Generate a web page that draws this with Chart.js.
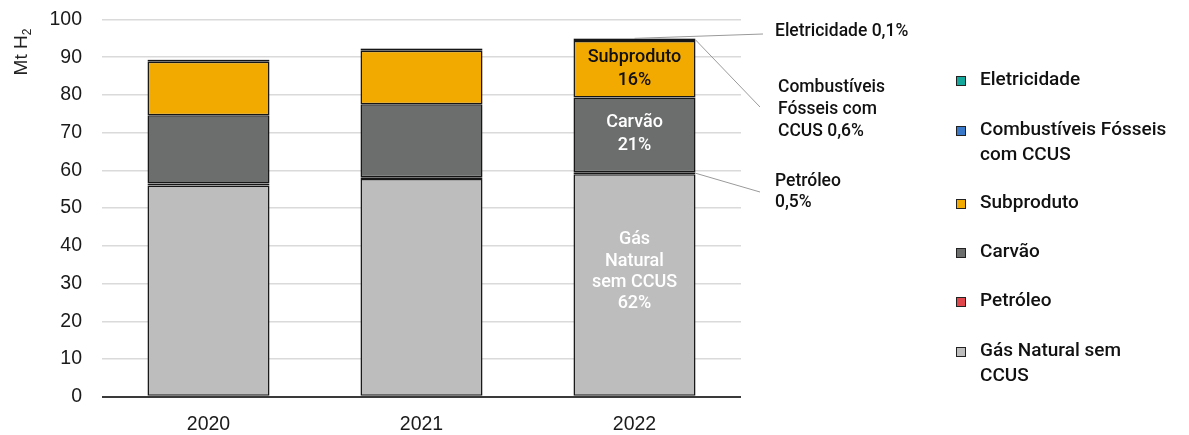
<!DOCTYPE html>
<html lang="pt">
<head>
<meta charset="utf-8">
<title>Produção de hidrogénio por fonte</title>
<script src="https://cdn.jsdelivr.net/npm/chart.js@4.4.1/dist/chart.umd.min.js"></script>
<style>
  html, body { margin: 0; padding: 0; background: #fff; }
  #wrap { width: 1189px; height: 435px; }
</style>
</head>
<body>
<div id="wrap"><canvas id="h2-chart" width="1189" height="435"></canvas></div>
<script>
// Produção de H2 por fonte (Mt H2)
const anos = ['2020', '2021', '2022'];
const gasNatural = [56.0, 57.7, 59.0];
const petroleo = [0.5, 0.5, 0.5];
const carvao = [18.1, 19.3, 19.8];
const subproduto = [14.2, 14.2, 15.0];
const fosseisCCUS = [0.5, 0.6, 0.6];
const eletricidade = [0.1, 0.1, 0.1];

// Legenda (de cima para baixo) com as quebras de linha
const legendaLinhas = [
    ['Eletricidade'],
    ['Combustíveis Fósseis', 'com CCUS'],
    ['Subproduto'],
    ['Carvão'],
    ['Petróleo'],
    ['Gás Natural sem', 'CCUS']
];

const FONT_TXT = "'Roboto', sans-serif";
const FONT_AXIS = "'Liberation Sans', Arial, sans-serif";

const series = [
    { label: 'Gás Natural sem CCUS', data: gasNatural, color: '#bdbdbd' },
    { label: 'Petróleo', data: petroleo, color: '#e0474c' },
    { label: 'Carvão', data: carvao, color: '#6b6e6d' },
    { label: 'Subproduto', data: subproduto, color: '#f2a900' },
    { label: 'Combustíveis Fósseis com CCUS', data: fosseisCCUS, color: '#3a78c9' },
    { label: 'Eletricidade', data: eletricidade, color: '#14a89c' }
];

function totalAno(i) {
    return series.reduce((s, d) => s + d.data[i], 0);
}

// percentagem no formato pt (vírgula decimal)
function pct(value, i) {
    const p = value / totalAno(i) * 100;
    const txt = p < 1 ? p.toFixed(1) : p.toFixed(0);
    return txt.replace('.', ',') + '%';
}

const extras = {
    id: 'extras',
    afterDatasetsDraw(chart) {
        const ctx = chart.ctx;
        const k = anos.length - 1;
        const seg = i => chart.getDatasetMeta(i).data[k].getProps(['x', 'y', 'base', 'width'], true);

        ctx.save();
        ctx.textAlign = 'center';
        ctx.textBaseline = 'middle';
        ctx.font = `500 18px ${FONT_TXT}`;

        // rótulos dentro das barras de 2022
        const internos = [
            { ds: 3, lines: ['Subproduto', pct(subproduto[k], k)], color: '#111', dy: 0, lh: 23 },
            { ds: 2, lines: ['Carvão', pct(carvao[k], k)], color: '#fff', dy: -1, lh: 23 },
            { ds: 0, lines: ['Gás', 'Natural', 'sem CCUS', pct(gasNatural[k], k)], color: '#fff', dy: -13, lh: 21.3 }
        ];
        internos.forEach(lb => {
            const s = seg(lb.ds);
            const mid = (s.y + s.base) / 2 + lb.dy;
            ctx.fillStyle = lb.color;
            lb.lines.forEach((t, j) => {
                ctx.fillText(t, s.x, mid + (j - (lb.lines.length - 1) / 2) * lb.lh);
            });
        });

        // linhas de chamada para as fatias finas
        const right = s => s.x + s.width / 2;
        const el = seg(5), cc = seg(4), pe = seg(1);
        ctx.strokeStyle = '#9a9a9a';
        ctx.lineWidth = 1;
        ctx.beginPath();
        ctx.moveTo(el.x, el.y);
        ctx.lineTo(763, 34);
        ctx.moveTo(right(cc), (cc.y + cc.base) / 2);
        ctx.lineTo(760, 107);
        ctx.moveTo(right(pe), (pe.y + pe.base) / 2);
        ctx.lineTo(760, 192);
        ctx.stroke();

        ctx.textAlign = 'left';
        ctx.fillStyle = '#111';
        ctx.font = `500 17.5px ${FONT_TXT}`;
        ctx.fillText('Eletricidade ' + pct(eletricidade[k], k), 775, 32);
        ['Combustíveis', 'Fósseis com', 'CCUS ' + pct(fosseisCCUS[k], k)].forEach((t, j) => {
            ctx.fillText(t, 778, 88 + j * 22);
        });
        ['Petróleo', pct(petroleo[k], k)].forEach((t, j) => {
            ctx.fillText(t, 775, 182 + j * 21);
        });

        // legenda à direita
        const rowsY = [80, 130, 203, 252, 301, 351];
        ctx.font = `500 19px ${FONT_TXT}`;
        legendaLinhas.forEach((lines, r) => {
            const s = series[series.length - 1 - r];
            const y = rowsY[r];
            ctx.fillStyle = s.color;
            ctx.fillRect(956, y - 4, 10, 10);
            ctx.strokeStyle = '#222';
            ctx.lineWidth = 1;
            ctx.strokeRect(956.5, y - 3.5, 9, 9);
            ctx.fillStyle = '#111';
            lines.forEach((t, j) => ctx.fillText(t, 980, y + j * 25));
        });

        // título do eixo y: Mt H₂
        ctx.translate(22, 52);
        ctx.rotate(-Math.PI / 2);
        ctx.font = `19px ${FONT_AXIS}`;
        ctx.fillStyle = '#222';
        const w1 = ctx.measureText('Mt H').width;
        ctx.font = `12px ${FONT_AXIS}`;
        const w2 = ctx.measureText('2').width;
        const x0 = -(w1 + w2) / 2;
        ctx.font = `19px ${FONT_AXIS}`;
        ctx.fillText('Mt H', x0, 0);
        ctx.font = `12px ${FONT_AXIS}`;
        ctx.fillText('2', x0 + w1, 6);
        ctx.restore();
    }
};

new Chart(document.getElementById('h2-chart'), {
    type: 'bar',
    data: {
        labels: anos,
        datasets: series.map(s => ({
            label: s.label,
            data: s.data,
            backgroundColor: s.color,
            borderColor: '#161616',
            borderWidth: 1.5,
            borderSkipped: false,
            categoryPercentage: 1,
            barPercentage: 0.573
        }))
    },
    options: {
        responsive: false,
        animation: false,
        layout: { padding: { left: 40, right: 448, top: 19.5, bottom: 0 } },
        plugins: {
            legend: { display: false },
            tooltip: { enabled: false }
        },
        scales: {
            x: {
                stacked: true,
                grid: { display: false, drawTicks: false },
                border: { display: false },
                ticks: {
                    color: '#1a1a1a',
                    padding: 16,
                    font: { family: FONT_AXIS, size: 19.5 }
                },
                afterFit: s => { s.height = 38.3; }
            },
            y: {
                stacked: true,
                min: 0,
                max: 100,
                border: { display: false },
                grid: {
                    drawTicks: false,
                    color: c => c.tick.value === 0 ? '#3a3a3a' : '#dadada',
                    lineWidth: c => c.tick.value === 0 ? 2 : 1.5
                },
                ticks: {
                    stepSize: 10,
                    color: '#1a1a1a',
                    padding: 20,
                    font: { family: FONT_AXIS, size: 19.5 }
                },
                // largura fixa do eixo; o topo da área fica só com o padding do layout
                afterFit: s => {
                    s.width = 62;
                    s.paddingTop = 0;
                    s.paddingBottom = 0;
                }
            }
        }
    },
    plugins: [extras]
});
</script>
</body>
</html>
